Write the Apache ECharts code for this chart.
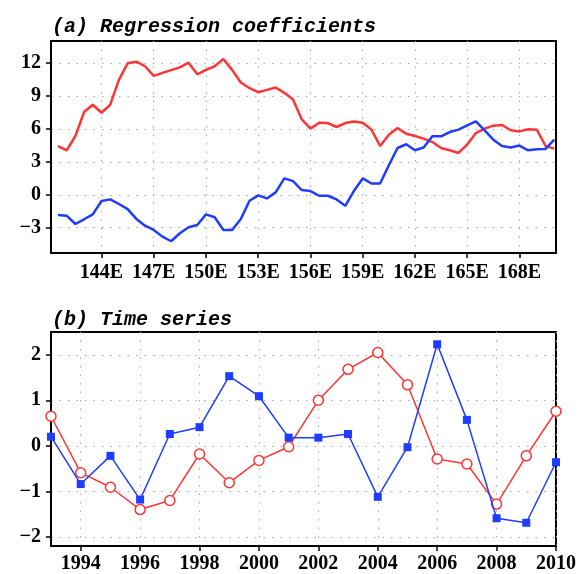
<!DOCTYPE html>
<html>
<head>
<meta charset="utf-8">
<script src="https://cdn.jsdelivr.net/npm/echarts@6/dist/echarts.min.js"></script>
<style>
  html, body { margin: 0; padding: 0; background: #fff; }
  #chart { width: 581px; height: 574px; }
</style>
</head>
<body>
<div id="chart"></div>
<script>
// panel (a): regression coefficients along longitude
var lons = [141.5, 142, 142.5, 143, 143.5, 144, 144.5, 145, 145.5, 146, 146.5, 147, 147.5, 148, 148.5,
  149, 149.5, 150, 150.5, 151, 151.5, 152, 152.5, 153, 153.5, 154, 154.5, 155, 155.5, 156, 156.5,
  157, 157.5, 158, 158.5, 159, 159.5, 160, 160.5, 161, 161.5, 162, 162.5, 163, 163.5, 164, 164.5,
  165, 165.5, 166, 166.5, 167, 167.5, 168, 168.5, 169, 169.5, 170];
var redCoef = [4.44, 4.05, 5.35, 7.53, 8.2, 7.47, 8.2, 10.46, 11.97, 12.12, 11.7, 10.82, 11.1, 11.35, 11.6,
  12.03, 10.97, 11.37, 11.7, 12.37, 11.37, 10.22, 9.7, 9.34, 9.55, 9.76, 9.28, 8.68, 6.86, 6.02, 6.56,
  6.53, 6.17, 6.53, 6.68, 6.56, 5.93, 4.44, 5.47, 6.07, 5.56, 5.35, 5.11, 4.8, 4.26, 4.05, 3.81,
  4.57, 5.62, 6.02, 6.29, 6.35, 5.87, 5.77, 5.96, 5.93, 4.44, 4.2];
var blueCoef = [-1.84, -1.9, -2.66, -2.23, -1.78, -0.57, -0.42, -0.84, -1.3, -2.2, -2.81, -3.2, -3.81, -4.23, -3.5,
  -2.95, -2.75, -1.78, -2.05, -3.2, -3.2, -2.2, -0.54, -0.06, -0.33, 0.22, 1.49, 1.24, 0.43, 0.34, -0.09,
  -0.09, -0.42, -1.0, 0.36, 1.49, 1.03, 1.03, 2.69, 4.26, 4.6, 4.05, 4.3, 5.32, 5.32, 5.71, 5.93,
  6.32, 6.68, 5.87, 5.02, 4.44, 4.3, 4.48, 4.05, 4.14, 4.17, 5.02];
var lonTicks = [144, 147, 150, 153, 156, 159, 162, 165, 168];
var coefTicks = [-3, 0, 3, 6, 9, 12];

// panel (b): time series
var years = [1993, 1994, 1995, 1996, 1997, 1998, 1999, 2000, 2001, 2002, 2003, 2004, 2005, 2006, 2007, 2008, 2009, 2010];
var redSeries = [0.65, -0.59, -0.91, -1.40, -1.20, -0.18, -0.81, -0.32, -0.02, 1.0, 1.68, 2.05, 1.34, -0.29, -0.40, -1.28, -0.22, 0.76];
var blueSeries = [0.20, -0.84, -0.22, -1.18, 0.26, 0.41, 1.53, 1.09, 0.18, 0.18, 0.26, -1.12, -0.03, 2.23, 0.57, -1.59, -1.69, -0.36];
var yearTicks = [1994, 1996, 1998, 2000, 2002, 2004, 2006, 2008, 2010];
var tsTicks = [-2, -1, 0, 1, 2];

var RED = '#ff3535';
var BLUE = '#1f3cff';

function pairs(xs, ys) {
  return xs.map(function (x, i) { return [x, ys[i]]; });
}

function minusFmt(v) {
  return v < 0 ? '\u2212' + Math.abs(v) : String(v);
}

var labelFont = {
  color: '#000',
  fontFamily: 'Liberation Serif',
  fontWeight: 'bold',
  fontSize: 20
};

var dotted = { show: true, lineStyle: { color: '#aaa', type: [1.5, 7], width: 1 } };

function axisBase(ticks, fmt, margin) {
  return {
    axisLine: { show: true, onZero: false, lineStyle: { color: '#000', width: 2 } },
    axisTick: { show: true, inside: false, length: 5, lineStyle: { color: '#000', width: 1.5 }, customValues: ticks },
    axisLabel: Object.assign({ customValues: ticks, formatter: fmt, margin: margin }, labelFont),
    splitLine: dotted
  };
}

var titleFont = {
  fontFamily: 'Liberation Mono',
  fontStyle: 'italic',
  fontWeight: 'bold',
  fontSize: 20,
  color: '#000'
};

var option = {
  animation: false,
  backgroundColor: '#fff',
  title: [
    { text: '(a) Regression coefficients', left: 47, top: 12, textStyle: titleFont },
    { text: '(b) Time series', left: 47, top: 305, textStyle: titleFont }
  ],
  grid: [
    { left: 51, top: 41, width: 505, height: 212, show: true, borderColor: '#000', borderWidth: 2, backgroundColor: 'transparent' },
    { left: 51, top: 332, width: 505, height: 214, show: true, borderColor: '#000', borderWidth: 2, backgroundColor: 'transparent' }
  ],
  xAxis: [
    Object.assign({ type: 'value', gridIndex: 0, min: 141.1, max: 170.1 },
      axisBase(lonTicks, function (v) { return v + 'E'; }, 10)),
    Object.assign({ type: 'value', gridIndex: 1, min: 1993, max: 2010 },
      axisBase(yearTicks, function (v) { return String(v); }, 8))
  ],
  yAxis: [
    Object.assign({ type: 'value', gridIndex: 0, min: -5.3, max: 14 },
      axisBase(coefTicks, minusFmt, 10)),
    Object.assign({ type: 'value', gridIndex: 1, min: -2.2, max: 2.5 },
      axisBase(tsTicks, minusFmt, 10))
  ],
  series: [
    {
      name: 'red coef', type: 'line', xAxisIndex: 0, yAxisIndex: 0,
      data: pairs(lons, redCoef), showSymbol: false,
      lineStyle: { color: RED, width: 2.5 }, z: 3
    },
    {
      name: 'blue coef', type: 'line', xAxisIndex: 0, yAxisIndex: 0,
      data: pairs(lons, blueCoef), showSymbol: false,
      lineStyle: { color: BLUE, width: 2.5 }, z: 3
    },
    {
      name: 'red ts', type: 'line', xAxisIndex: 1, yAxisIndex: 1,
      data: pairs(years, redSeries), symbol: 'circle', symbolSize: 10,
      itemStyle: { color: '#fff', borderColor: RED, borderWidth: 1.5 },
      lineStyle: { color: RED, width: 1.5 }, z: 3
    },
    {
      name: 'blue ts', type: 'line', xAxisIndex: 1, yAxisIndex: 1,
      data: pairs(years, blueSeries), symbol: 'rect', symbolSize: 8,
      itemStyle: { color: BLUE },
      lineStyle: { color: BLUE, width: 1.5 }, z: 4
    }
  ]
};

var chart = echarts.init(document.getElementById('chart'));
chart.setOption(option);
</script>
</body>
</html>
